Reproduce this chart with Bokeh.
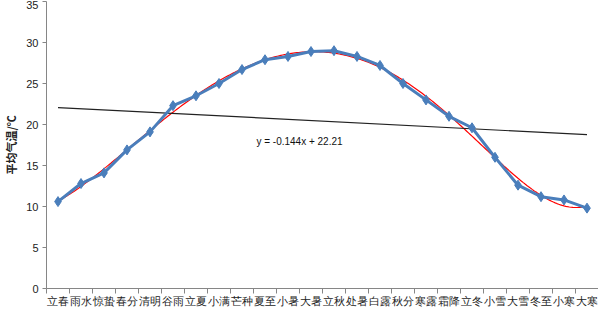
import numpy as np
from bokeh.plotting import figure
from bokeh.models import Range1d, FixedTicker, ColumnDataSource
from bokeh.core.properties import value
from bokeh.embed import file_html
from bokeh.resources import INLINE

terms = ["立春", "雨水", "惊蛰", "春分", "清明", "谷雨", "立夏", "小满", "芒种", "夏至", "小暑", "大暑",
         "立秋", "处暑", "白露", "秋分", "寒露", "霜降", "立冬", "小雪", "大雪", "冬至", "小寒", "大寒"]
temps = [10.6, 12.8, 14.1, 16.9, 19.1, 22.3, 23.5, 25.0, 26.7, 27.9, 28.3, 28.9,
         29.0, 28.3, 27.2, 25.0, 23.0, 21.0, 19.6, 16.0, 12.6, 11.2, 10.8, 9.8]
trend_slope = -0.144
trend_intercept = 22.21
trend_label = "y = -0.144x + 22.21"
y_ticks = [0, 5, 10, 15, 20, 25, 30, 35]

xs = list(range(1, len(terms) + 1))

p = figure(width=598, height=309, output_backend="svg", toolbar_location=None,
           x_range=Range1d(0.5, len(terms) + 0.5), y_range=Range1d(0, 35),
           min_border_left=20, min_border_right=0, min_border_top=1, min_border_bottom=0)
p.outline_line_color = None
p.xgrid.visible = False
p.ygrid.visible = False
p.background_fill_color = "white"

# polynomial trend (red)
coef = np.polyfit(xs, temps, 6)
xf = np.linspace(1, len(terms), 300)
p.line(xf, np.polyval(coef, xf), line_color="#ff0000", line_width=1.2)

# linear trend (black)
xl = np.array([1, len(terms)])
p.line(xl, trend_slope * xl + trend_intercept, line_color="#222222", line_width=1.2)

src = ColumnDataSource(dict(x=xs, y=temps))
p.line("x", "y", source=src, line_color="#4a7ebb", line_width=3)
p.scatter("x", "y", source=src, marker="diamond", size=10, fill_color="#4a7ebb", line_color="#4a7ebb")

p.text(x=[11.5], y=[17.9], text=[trend_label], text_align="center", text_baseline="middle",
       text_font=value("Liberation Sans"), text_font_size="10px", text_color="#111111")

# axes
p.yaxis.ticker = FixedTicker(ticks=y_ticks)
p.yaxis.axis_line_color = "#868686"
p.yaxis.major_tick_line_color = "#868686"
p.yaxis.major_tick_out = 4
p.yaxis.major_tick_in = 0
p.yaxis.minor_tick_line_color = None
p.yaxis.major_label_text_font = "Liberation Sans"
p.yaxis.major_label_text_font_size = "11px"
p.yaxis.major_label_text_color = "#222222"
p.yaxis.major_label_standoff = 4
p.yaxis.axis_label = "平均气温/℃"
p.yaxis.axis_label_text_font = "Noto Sans CJK SC"
p.yaxis.axis_label_text_font_size = "11px"
p.yaxis.axis_label_text_font_style = "bold"
p.yaxis.axis_label_text_color = "#222222"
p.yaxis.axis_label_standoff = 4

p.xaxis.ticker = FixedTicker(ticks=xs, minor_ticks=[x - 0.5 for x in xs] + [len(xs) + 0.5])
p.xaxis.major_label_overrides = {x: t for x, t in zip(xs, terms)}
p.xaxis.axis_line_color = "#868686"
p.xaxis.major_tick_line_color = None
p.xaxis.major_tick_out = 0
p.xaxis.major_tick_in = 0
p.xaxis.minor_tick_line_color = "#868686"
p.xaxis.minor_tick_out = 5
p.xaxis.minor_tick_in = 0
p.xaxis.major_label_text_font = "Liberation Sans"
p.xaxis.major_label_text_font_size = "11px"
p.xaxis.major_label_text_color = "#222222"
p.xaxis.major_label_standoff = 1

open("out.html", "w").write(file_html(p, INLINE))
